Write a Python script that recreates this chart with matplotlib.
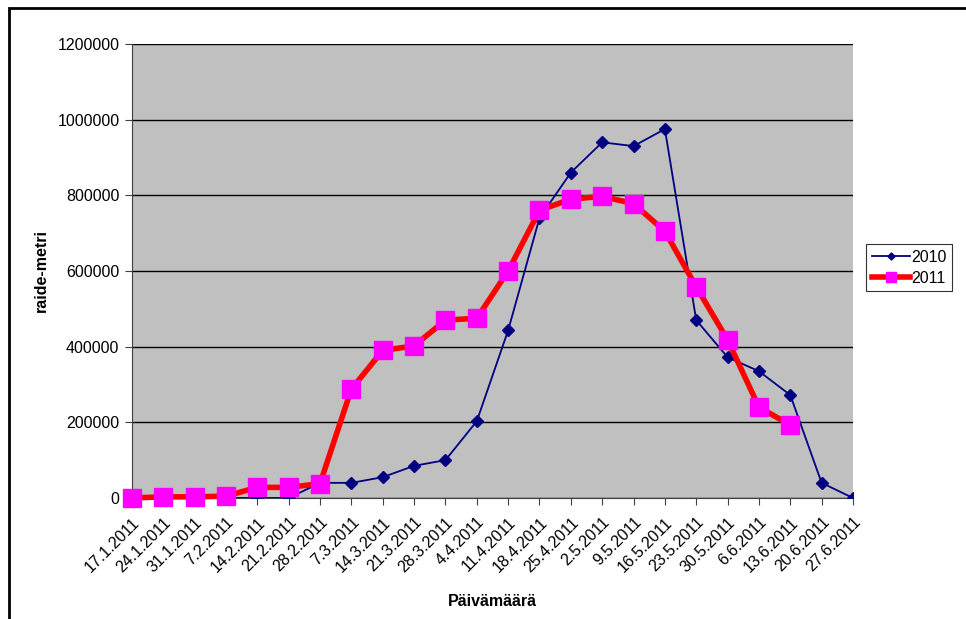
import numpy as np
import matplotlib.pyplot as plt
from matplotlib.patches import Rectangle
from matplotlib.ticker import StrMethodFormatter

# data
dates = ["17.1.2011", "24.1.2011", "31.1.2011", "7.2.2011", "14.2.2011", "21.2.2011",
         "28.2.2011", "7.3.2011", "14.3.2011", "21.3.2011", "28.3.2011", "4.4.2011",
         "11.4.2011", "18.4.2011", "25.4.2011", "2.5.2011", "9.5.2011", "16.5.2011",
         "23.5.2011", "30.5.2011", "6.6.2011", "13.6.2011", "20.6.2011", "27.6.2011"]

y2010 = [0, 0, 0, 0, 0, 0, 40000, 40000, 55000, 85000, 100000, 203000,
         443000, 740000, 860000, 940000, 930000, 975000, 470000, 372000,
         335000, 272000, 40000, 0]

y2011 = [0, 3000, 3000, 5000, 28000, 28000, 38000, 288000, 390000, 402000,
         470000, 475000, 600000, 760000, 790000, 797000, 778000, 705000,
         558000, 418000, 240000, 193000, np.nan, np.nan]

plt.rcParams['font.family'] = ['Liberation Sans', 'DejaVu Sans']

fig = plt.figure(figsize=(9.66, 6.19), dpi=100)
ax = fig.add_axes([0.1366, 0.1955, 0.7464, 0.7335])
ax.set_facecolor('#c0c0c0')

x = np.arange(len(dates))
ax.plot(x, y2010, color='#000080', lw=1.3, marker='D', ms=6, label='2010', zorder=3)
ax.plot(x, y2011, color='#ff0000', lw=4, marker='s', ms=13, mfc='#ff00ff', mec='#ff00ff',
        label='2011', zorder=4, clip_on=False)

ax.set_xlim(0, len(dates) - 1)
ax.set_ylim(0, 1200000)
ax.set_yticks(np.arange(0, 1200001, 200000))
ax.yaxis.set_major_formatter(StrMethodFormatter('{x:.0f}'))
ax.yaxis.grid(True, color='black', lw=1)
ax.set_axisbelow(True)
ax.set_xticks(x)
ax.set_xticklabels(dates, rotation=45, ha='right', rotation_mode='anchor', fontsize=11.5)
ax.tick_params(axis='y', labelsize=11.5, length=5, color='#404040', pad=4)
ax.tick_params(axis='x', length=5, color='#404040', pad=7)
for s in ['top', 'right']:
    ax.spines[s].set_visible(False)
ax.spines['left'].set_color('#404040')
ax.spines['bottom'].set_color('#404040')

ax.set_ylabel('raide-metri', fontsize=11.5, fontweight='bold', labelpad=6)
ax.set_xlabel('Päivämäärä', fontsize=11.5, fontweight='bold', labelpad=14)

leg = ax.legend(loc='center left', bbox_to_anchor=(1.018, 0.507), fontsize=11.5, frameon=True,
                fancybox=False, edgecolor='black', handlelength=2.4, borderpad=0.35,
                handletextpad=0.1, labelspacing=0.35, markerscale=0.6, borderaxespad=0)
leg.get_frame().set_linewidth(0.8)

# outer frame
fig.patches.append(Rectangle((9 / 966, -0.1), 1.1, 1 - 8 / 619 + 0.1, transform=fig.transFigure,
                             fill=False, edgecolor='black', lw=2))

fig.savefig('out.png', dpi=100)
